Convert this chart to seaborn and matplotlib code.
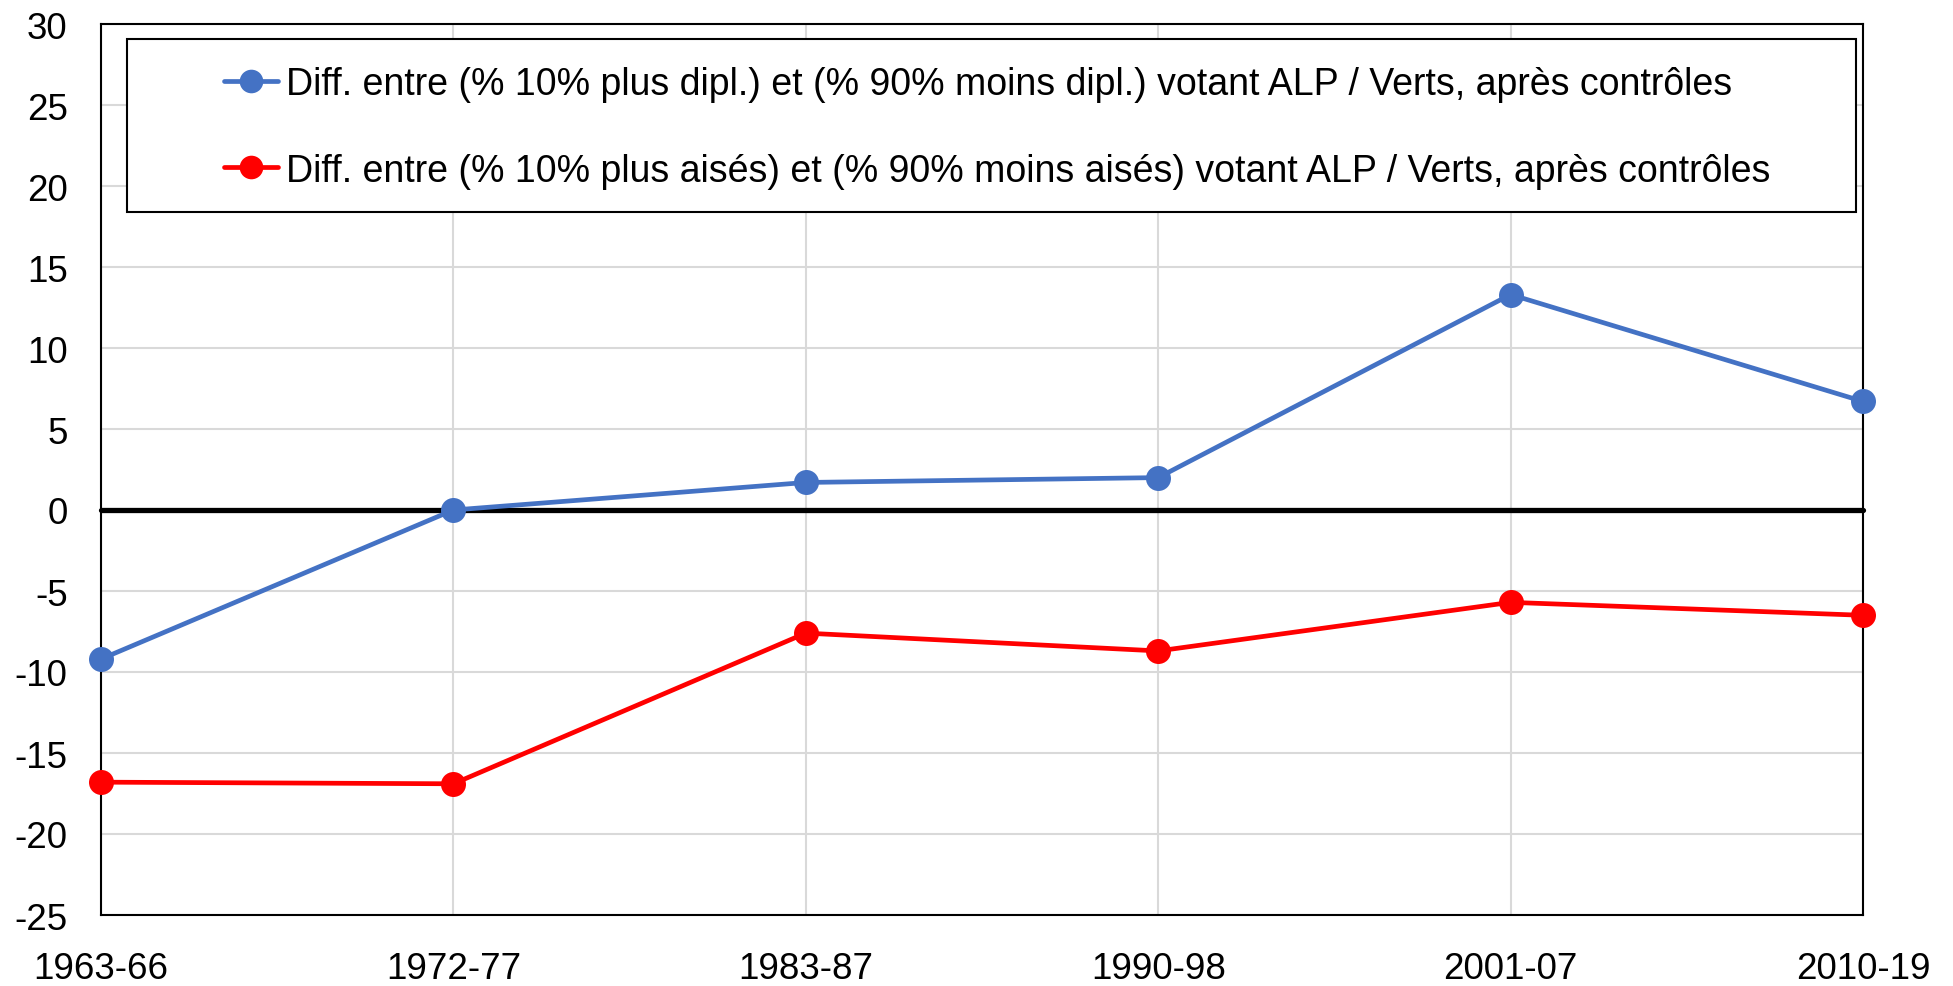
import matplotlib
matplotlib.use("Agg")
import matplotlib.pyplot as plt
import seaborn as sns
import pandas as pd
from matplotlib.patches import Rectangle
from matplotlib.lines import Line2D

periods = ["1963-66", "1972-77", "1983-87", "1990-98", "2001-07", "2010-19"]
diplome = [-9.2, 0.0, 1.7, 2.0, 13.3, 6.7]
revenu = [-16.8, -16.9, -7.6, -8.7, -5.7, -6.5]
label_dipl = "Diff. entre (% 10% plus dipl.) et (% 90% moins dipl.) votant ALP / Verts, après contrôles"
label_rev = "Diff. entre (% 10% plus aisés) et (% 90% moins aisés) votant ALP / Verts, après contrôles"
yticks = list(range(-25, 31, 5))

sns.set_theme(style="white")
plt.rcParams['font.family'] = ['Liberation Sans', 'DejaVu Sans']
plt.rcParams['text.color'] = 'black'

df = pd.DataFrame({
    "pos": list(range(len(periods))) * 2,
    "val": diplome + revenu,
    "serie": [label_dipl] * len(periods) + [label_rev] * len(periods),
})

fig = plt.figure(figsize=(19.53, 9.87), dpi=100)
ax = fig.add_axes([101/1953, 1-916/987, 1762/1953, 891/987])

colors = {label_dipl: "#4472C4", label_rev: "#FF0000"}

ax.grid(True, color="#d9d9d9", linewidth=1.5)
ax.set_axisbelow(True)
ax.axhline(0, color="black", linewidth=3.8, zorder=2)

sns.lineplot(data=df, x="pos", y="val", hue="serie", palette=colors,
             marker="o", markersize=18, markeredgewidth=0, linewidth=3.4,
             ax=ax, legend=False, clip_on=False, zorder=3)
for ln in ax.lines:
    ln.set_clip_on(False)

ax.set_xlim(0, len(periods) - 1)
ax.set_ylim(-25, 30)
ax.set_xticks(range(len(periods)))
ax.set_xticklabels(periods)
ax.set_yticks(yticks)
ax.set_yticklabels([str(v) for v in yticks])
ax.tick_params(axis="x", length=0, pad=26, labelsize=26.5, colors="black")
ax.tick_params(axis="y", length=0, pad=24, labelsize=26.5, colors="black")
ax.set_xlabel("")
ax.set_ylabel("")
for s in ax.spines.values():
    s.set_visible(True)
    s.set_color("black")
    s.set_linewidth(1.5)

# legend box
ax.add_patch(Rectangle((0.0148, 0.789), 0.996 - 0.0148, 0.983 - 0.789,
                       transform=ax.transAxes, fill=True, facecolor="white",
                       edgecolor="black", linewidth=1.5, zorder=4))
handles = [Line2D([], [], color=colors[l], marker="o", markersize=17,
                  markeredgewidth=0, linewidth=3.4) for l in (label_dipl, label_rev)]
leg = ax.legend(handles, [label_dipl, label_rev], loc="upper left",
                bbox_to_anchor=(0.0698, 0.953), frameon=False, fontsize=27,
                borderpad=0, borderaxespad=0, handlelength=1.45,
                handletextpad=0.2, labelspacing=1.35)
leg.set_zorder(5)
for t in leg.get_texts():
    t.set_color("black")

fig.savefig("out.png", dpi=100)
